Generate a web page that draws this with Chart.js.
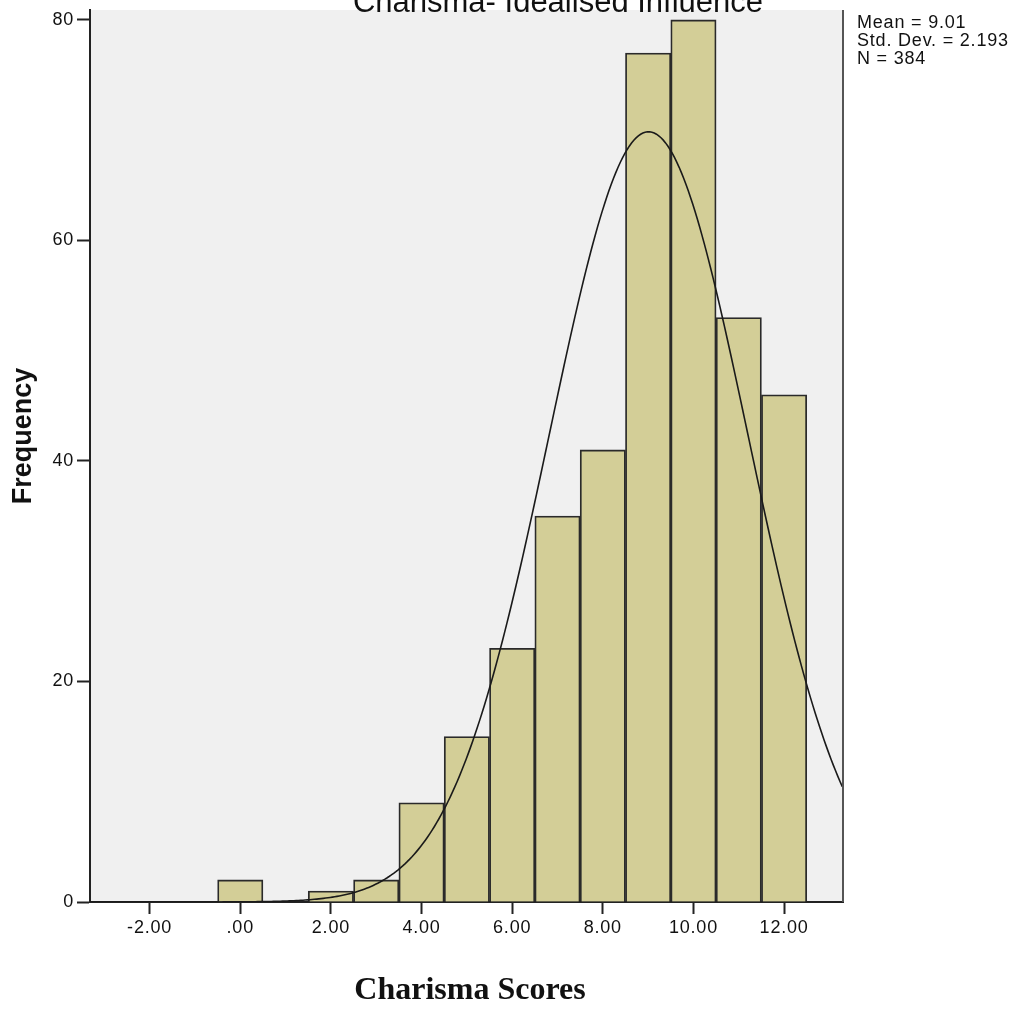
<!DOCTYPE html>
<html lang="en">
<head>
<meta charset="UTF-8">
<title>Charisma Scores Histogram</title>
<script src="https://cdn.jsdelivr.net/npm/chart.js"></script>
<style>
    body { margin: 0; background: #fff; }
    #wrap { width: 1017px; height: 1009px; }
</style>
</head>
<body>
<div id="wrap"><canvas id="hist" width="1017" height="1009"></canvas></div>
<script>
// Score bins (bin width 1) and their counts
const bins = [0, 1, 2, 3, 4, 5, 6, 7, 8, 9, 10, 11, 12];
const counts = [2, 0, 1, 2, 9, 15, 23, 35, 41, 77, 80, 53, 46];

// Axis ticks
const xTickValues = [-2, 0, 2, 4, 6, 8, 10, 12];
const xTickLabels = ['-2.00', '.00', '2.00', '4.00', '6.00', '8.00', '10.00', '12.00'];
const yTickValues = [0, 20, 40, 60, 80];

// Summary statistics shown next to the plot
const mean = 9.01;
const stdDev = 2.193;
const n = 384;

const xMin = -3.316, xMax = 13.30;
const yMax = 80.9;

// Normal curve scaled to the histogram (N * bin width * density)
const curve = [];
for (let x = xMin; x <= xMax + 0.001; x += 0.05) {
    const z = (x - mean) / stdDev;
    curve.push({ x: x, y: n * Math.exp(-0.5 * z * z) / (stdDev * Math.sqrt(2 * Math.PI)) });
}

const barData = bins.map((b, i) => ({ x: b, y: counts[i] }));

const SANS = '"Liberation Sans", Arial, sans-serif';

const decor = {
    id: 'decor',
    beforeDraw(chart) {
        const { ctx, chartArea: a } = chart;
        ctx.save();
        ctx.fillStyle = '#f0f0f0';
        ctx.fillRect(a.left, a.top, a.right - a.left, a.bottom - a.top);
        ctx.restore();
        // slightly loose spacing for the tick labels
        ctx.letterSpacing = '0.8px';
    },
    afterDraw(chart) {
        const { ctx, chartArea: a } = chart;
        ctx.save();
        // right frame line
        ctx.strokeStyle = '#555';
        ctx.lineWidth = 2;
        ctx.beginPath();
        ctx.moveTo(a.right, a.top);
        ctx.lineTo(a.right, a.bottom);
        ctx.stroke();

        // stats box
        ctx.fillStyle = '#111';
        ctx.font = '18px ' + SANS;
        ctx.textAlign = 'left';
        ctx.textBaseline = 'alphabetic';
        ctx.fillText('Mean = ' + mean.toFixed(2), 857, 28);
        ctx.fillText('Std. Dev. = ' + stdDev.toFixed(3), 857, 46);
        ctx.fillText('N = ' + n, 857, 64);

        ctx.letterSpacing = '0px';

        // chart title (cut off at the top edge)
        ctx.font = '31px ' + SANS;
        ctx.textAlign = 'center';
        ctx.fillText('Charisma- Idealised Influence', 558, 12);

        // y axis title
        ctx.save();
        ctx.translate(31, 436);
        ctx.rotate(-Math.PI / 2);
        ctx.textAlign = 'center';
        ctx.font = 'bold 27px ' + SANS;
        ctx.fillText('Frequency', 0, 0);
        ctx.restore();

        // x axis title
        ctx.textAlign = 'center';
        ctx.font = 'bold 32px "Liberation Serif", "Times New Roman", serif';
        ctx.fillText('Charisma Scores', 470, 999);
        ctx.restore();
    }
};

new Chart(document.getElementById('hist'), {
    type: 'bar',
    data: {
        datasets: [
            {
                type: 'line',
                data: curve,
                borderColor: '#1a1a1a',
                borderWidth: 1.6,
                pointRadius: 0,
                tension: 0,
                fill: false,
                order: 0
            },
            {
                data: barData,
                backgroundColor: '#d3ce97',
                borderColor: '#2a2a2a',
                borderWidth: 1.8,
                barPercentage: 1,
                categoryPercentage: 1,
                order: 1
            }
        ]
    },
    options: {
        responsive: false,
        animation: false,
        layout: { padding: { top: 10, right: 174, left: 0, bottom: 0 } },
        plugins: { legend: { display: false }, tooltip: { enabled: false } },
        scales: {
            x: {
                type: 'linear',
                min: xMin,
                max: xMax,
                offset: false,
                afterFit: s => { s.height = 107; s.paddingLeft = 0; s.paddingRight = 0; },
                afterBuildTicks: s => { s.ticks = xTickValues.map(v => ({ value: v })); },
                border: { color: '#222', width: 2 },
                grid: { offset: false, drawOnChartArea: false, tickLength: 12, tickColor: '#222', tickWidth: 2 },
                ticks: {
                    padding: 3,
                    color: '#111',
                    font: { family: SANS, size: 18 },
                    maxRotation: 0,
                    callback: v => xTickLabels[xTickValues.indexOf(v)]
                }
            },
            y: {
                min: 0,
                max: yMax,
                afterFit: s => { s.width = 90; s.paddingTop = 0; s.paddingBottom = 0; },
                afterBuildTicks: s => { s.ticks = yTickValues.map(v => ({ value: v })); },
                border: { color: '#222', width: 2 },
                grid: { drawOnChartArea: false, tickLength: 13, tickColor: '#222', tickWidth: 2 },
                ticks: {
                    padding: 3,
                    color: '#111',
                    font: { family: SANS, size: 18 }
                }
            }
        }
    },
    plugins: [decor]
});
</script>
</body>
</html>
